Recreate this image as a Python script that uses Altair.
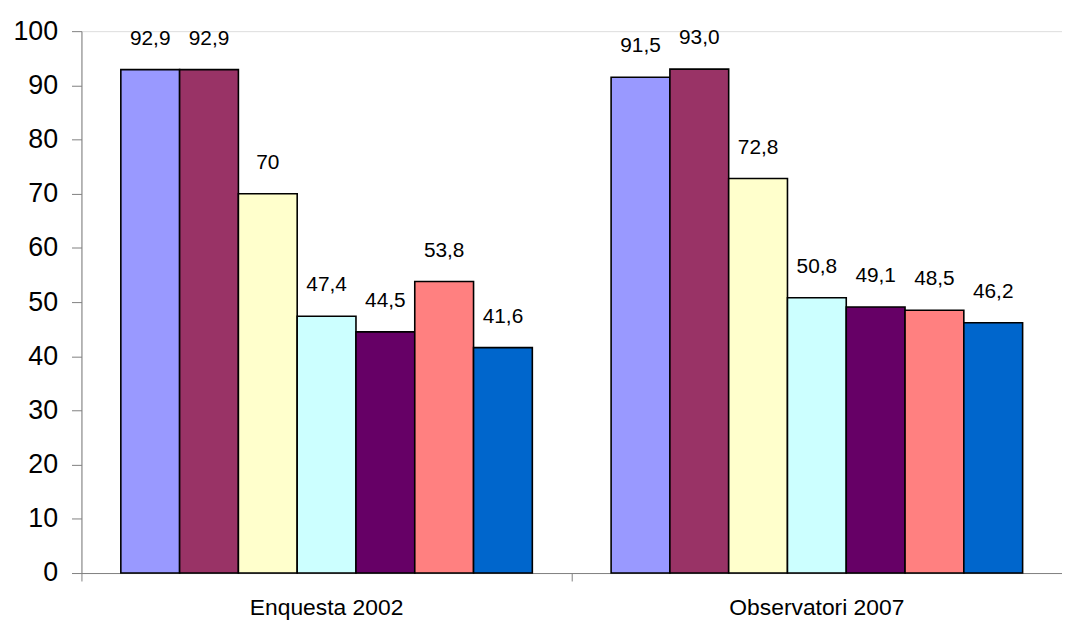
import altair as alt
import pandas as pd

groups = ["Enquesta 2002", "Observatori 2007"]
series = ["Sèrie 1", "Sèrie 2", "Sèrie 3", "Sèrie 4", "Sèrie 5", "Sèrie 6", "Sèrie 7"]
colors = ["#9999FF", "#993366", "#FFFFCC", "#CCFFFF", "#660066", "#FF8080", "#0066CC"]

values_2002 = [92.9, 92.9, 70.0, 47.4, 44.5, 53.8, 41.6]
labels_2002 = ["92,9", "92,9", "70", "47,4", "44,5", "53,8", "41,6"]
values_2007 = [91.5, 93.0, 72.8, 50.8, 49.1, 48.5, 46.2]
labels_2007 = ["91,5", "93,0", "72,8", "50,8", "49,1", "48,5", "46,2"]
y_ticks = [0, 10, 20, 30, 40, 50, 60, 70, 80, 90, 100]

rows = []
for g, vals, labs in [(groups[0], values_2002, labels_2002), (groups[1], values_2007, labels_2007)]:
    for s, v, l in zip(series, vals, labs):
        rows.append({"grup": g, "serie": s, "valor": v, "etiqueta": l})
df = pd.DataFrame(rows)

FONT = "Liberation Sans"
AXIS_GRAY = "#808080"

x_enc = alt.X(
    "grup:N",
    sort=groups,
    scale=alt.Scale(paddingInner=0, paddingOuter=0),
    axis=alt.Axis(
        title=None,
        labelAngle=0,
        labelFontSize=23,
        labelFont=FONT,
        labelColor="#000000",
        labelPadding=16,
        labelLimit=0,
        bandPosition=0,
        tickSize=8,
        tickColor=AXIS_GRAY,
        domainColor=AXIS_GRAY,
        grid=False,
    ),
)
xoff_enc = alt.XOffset("serie:N", sort=series, scale=alt.Scale(paddingInner=0, paddingOuter=0.67))
y_enc = alt.Y(
    "valor:Q",
    scale=alt.Scale(domain=[0, 100], nice=False),
    axis=alt.Axis(
        title=None,
        values=y_ticks,
        labelFontSize=27,
        labelFont=FONT,
        labelColor="#000000",
        labelPadding=14,
        tickSize=10,
        tickColor=AXIS_GRAY,
        domainColor=AXIS_GRAY,
        grid=False,
    ),
)

bars = alt.Chart(df).mark_bar(stroke="#000000", strokeWidth=1.6).encode(
    x=x_enc,
    xOffset=xoff_enc,
    y=y_enc,
    color=alt.Color("serie:N", sort=series, scale=alt.Scale(domain=series, range=colors), legend=None),
)

texts = alt.Chart(df).mark_text(
    baseline="alphabetic", dy=-25, fontSize=21, font=FONT, color="#000000"
).encode(
    x=x_enc,
    xOffset=xoff_enc,
    y=y_enc,
    text="etiqueta:N",
)

chart = (
    alt.layer(bars, texts)
    .properties(
        width=988,
        height=546,
        autosize=alt.AutoSizeParams(type="none"),
        padding={"left": 74, "top": 21, "right": 0, "bottom": 48},
    )
    .configure_view(strokeWidth=0, stroke="transparent")
    .configure(background="#ffffff")
)

chart.save("out.html", embed_options={"renderer": "svg", "actions": False})
